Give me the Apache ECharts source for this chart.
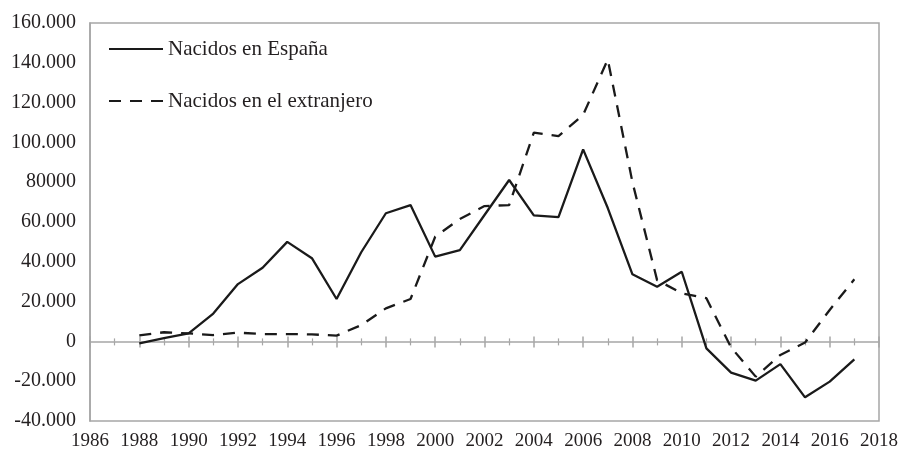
<!DOCTYPE html>
<html>
<head>
<meta charset="utf-8">
<script src="https://cdn.jsdelivr.net/npm/echarts@6/dist/echarts.min.js"></script>
<style>
  html, body { margin: 0; padding: 0; background: #fff; }
  #chart { width: 903px; height: 451px; }
</style>
</head>
<body>
<div id="chart"></div>
<script>
// años y valores
var years = [1988, 1989, 1990, 1991, 1992, 1993, 1994, 1995, 1996, 1997,
  1998, 1999, 2000, 2001, 2002, 2003, 2004, 2005, 2006, 2007,
  2008, 2009, 2010, 2011, 2012, 2013, 2014, 2015, 2016, 2017];

var nacidosEspana = [-1000, 1700, 4000, 14000, 28800, 37000, 50000, 41800, 21300, 44800,
  64400, 68500, 42600, 45900, 63500, 81100, 63300, 62400, 96500, 67000,
  33700, 27500, 35000, -3500, -15700, -19700, -11400, -28100, -20200, -9000];

var nacidosExtranjero = [3000, 4600, 4000, 3200, 4400, 3700, 3700, 3500, 2900, 8200,
  16600, 21300, 52600, 61500, 68000, 68500, 104900, 103200, 113800, 141700,
  80000, 30800, 24200, 21700, -3000, -17700, -6800, -600, 15800, 31200];

var seriesNames = ["Nacidos en España", "Nacidos en el extranjero"];

// etiquetas del eje Y tal como aparecen (incluido "80000")
var yTicks = [-40000, -20000, 0, 20000, 40000, 60000, 80000, 100000, 120000, 140000, 160000];
var yTickLabels = ["-40.000", "-20.000", "0", "20.000", "40.000", "60.000", "80000",
  "100.000", "120.000", "140.000", "160.000"];

function pairs(vals) {
  return years.map(function (y, i) { return [y, vals[i]]; });
}

var txtColor = "#231f20";
var gray = "#a6a6a6";
var font = "Liberation Serif";

var chart = echarts.init(document.getElementById("chart"));
chart.setOption({
  backgroundColor: "#fff",
  animation: false,
  grid: {
    left: 90,
    right: 24,
    top: 23,
    bottom: 30,
    outerBoundsMode: "none",
    containLabel: false,
    show: true,
    borderColor: gray,
    borderWidth: 1.5
  },
  legend: {
    orient: "vertical",
    left: 108,
    top: 38,
    padding: 0,
    itemWidth: 54,
    itemHeight: 12,
    itemGap: 30,
    data: seriesNames,
    itemStyle: { opacity: 0 },
    textStyle: { fontFamily: font, fontSize: 21, color: txtColor, lineHeight: 22 }
  },
  xAxis: [
    {
      type: "value",
      min: 1986,
      max: 2018,
      interval: 2,
      position: "bottom",
      axisLine: { show: true, onZero: true, onZeroAxisIndex: 0, lineStyle: { color: gray, width: 1.5 } },
      axisTick: { show: true, length: 6, lineStyle: { color: gray, width: 1.5 } },
      minorTick: { show: true, splitNumber: 2, length: 4, lineStyle: { color: gray, width: 1.2 } },
      splitLine: { show: false },
      axisLabel: {
        margin: 11,
        fontFamily: font,
        fontSize: 19,
        color: txtColor,
        formatter: function (v) { return String(v); }
      }
    },
    {
      type: "value",
      min: 1986,
      max: 2018,
      interval: 2,
      position: "top",
      axisLine: { show: false, onZero: true, onZeroAxisIndex: 0 },
      axisTick: { show: true, length: 5, lineStyle: { color: gray, width: 1.5 } },
      minorTick: { show: true, splitNumber: 2, length: 3, lineStyle: { color: gray, width: 1.2 } },
      splitLine: { show: false },
      axisLabel: { show: false }
    }
  ],
  yAxis: {
    type: "value",
    min: -40000,
    max: 160000,
    interval: 20000,
    axisLine: { show: true, onZero: false, lineStyle: { color: gray, width: 1.5 } },
    axisTick: { show: false },
    splitLine: { show: false },
    axisLabel: {
      margin: 14,
      fontFamily: font,
      fontSize: 20,
      color: txtColor,
      formatter: function (v) {
        var i = yTicks.indexOf(v);
        return i >= 0 ? yTickLabels[i] : "";
      }
    }
  },
  series: [
    {
      name: seriesNames[0],
      type: "line",
      xAxisIndex: 0,
      symbol: "none",
      data: pairs(nacidosEspana),
      lineStyle: { color: "#1a1a1a", width: 2.3, type: "solid" },
      itemStyle: { color: "#1a1a1a" }
    },
    {
      name: seriesNames[1],
      type: "line",
      xAxisIndex: 0,
      symbol: "none",
      data: pairs(nacidosExtranjero),
      lineStyle: { color: "#1a1a1a", width: 2.3, type: [12, 9] },
      itemStyle: { color: "#1a1a1a" }
    }
  ]
});
</script>
</body>
</html>
